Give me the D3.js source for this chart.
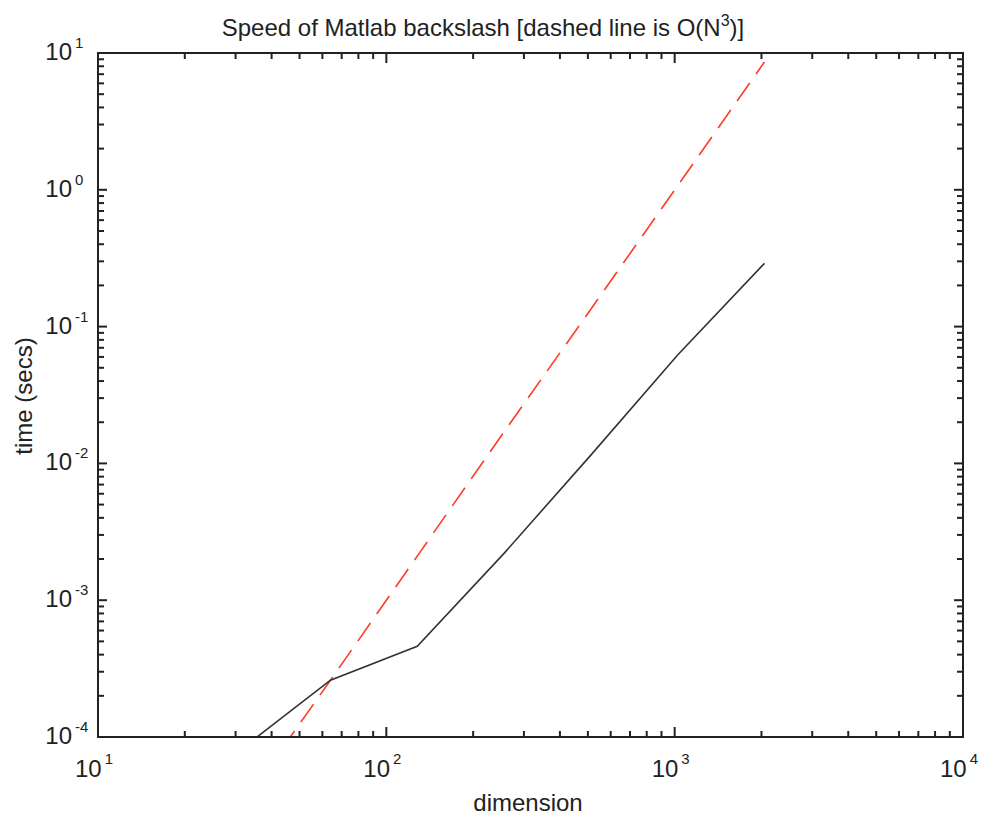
<!DOCTYPE html>
<html>
<head>
<meta charset="utf-8">
<script src="https://cdn.jsdelivr.net/npm/d3@7"></script>
<style>
  body { margin: 0; background: #fff; }
  text { font-family: Arial, "Liberation Sans", Helvetica, sans-serif; fill: #222; }
</style>
</head>
<body>
<svg id="chart" width="981" height="815"></svg>
<script>
// matrix dimension N and solve time (secs)
let dims = [32, 64, 128, 256, 512, 1024, 2048];
let timeSecs = [8.4e-5, 2.6e-4, 4.6e-4, 2.2e-3, 1.15e-2, 6.2e-2, 2.9e-1];
// reference O(N^3) curve
let cubicRef = [3.3e-5, 2.6e-4, 2.1e-3, 1.7e-2, 1.34e-1, 1.07, 8.6];

let xDecades = [1, 2, 3, 4];
let yDecades = [-4, -3, -2, -1, 0, 1];

let svg = d3.select('#chart');
let plotL = 98, plotR = 963, plotT = 53, plotB = 737;

let x = d3.scaleLog().domain([10, 1e4]).range([plotL, plotR]);
let y = d3.scaleLog().domain([1e-4, 10]).range([plotB, plotT]);

// minor + major ticks
let xTicks = [];
for (let e = 1; e < 4; e++) for (let m = 1; m < 10; m++) xTicks.push(m * Math.pow(10, e));
xTicks.push(1e4);
let yTicks = [];
for (let e = -4; e < 1; e++) for (let m = 1; m < 10; m++) yTicks.push(m * Math.pow(10, e));
yTicks.push(10);

function isMajor(v) {
  let l = Math.log10(v);
  return Math.abs(l - Math.round(l)) < 1e-9;
}

svg.append('clipPath').attr('id', 'clip')
  .append('rect').attr('x', plotL).attr('y', plotT).attr('width', plotR - plotL).attr('height', plotB - plotT);

let plot = svg.append('g').attr('clip-path', 'url(#clip)');

let line = d3.line().x((d, i) => x(dims[i])).y(d => y(d));

plot.append('path')
  .datum(cubicRef)
  .attr('d', line)
  .attr('fill', 'none')
  .attr('stroke', '#ff3b24')
  .attr('stroke-width', 1.6)
  .attr('stroke-dasharray', '22 11');

plot.append('path')
  .datum(timeSecs)
  .attr('d', line)
  .attr('fill', 'none')
  .attr('stroke', '#333')
  .attr('stroke-width', 1.6);

// ticks on all four sides, pointing inward
let tk = svg.append('g').attr('stroke', '#222').attr('stroke-width', 2);
xTicks.forEach(v => {
  let len = isMajor(v) ? 10 : 6;
  tk.append('line').attr('x1', x(v)).attr('x2', x(v)).attr('y1', plotB).attr('y2', plotB - len);
  tk.append('line').attr('x1', x(v)).attr('x2', x(v)).attr('y1', plotT).attr('y2', plotT + len);
});
yTicks.forEach(v => {
  let len = isMajor(v) ? 9 : 6;
  tk.append('line').attr('y1', y(v)).attr('y2', y(v)).attr('x1', plotL).attr('x2', plotL + len);
  tk.append('line').attr('y1', y(v)).attr('y2', y(v)).attr('x1', plotR).attr('x2', plotR - len);
});

svg.append('rect')
  .attr('x', plotL).attr('y', plotT).attr('width', plotR - plotL).attr('height', plotB - plotT)
  .attr('fill', 'none').attr('stroke', '#222').attr('stroke-width', 2);

// tick labels: 10 with superscript exponent
xDecades.forEach(e => {
  let t = svg.append('text').attr('x', x(Math.pow(10, e)) - 4).attr('y', 777)
    .attr('text-anchor', 'middle').style('font-size', '24px');
  t.append('tspan').text('10');
  t.append('tspan').attr('dx', 3).attr('dy', -13).style('font-size', '15px').text(e);
});
yDecades.forEach(e => {
  svg.append('text').attr('x', 72).attr('y', y(Math.pow(10, e)) + 7)
    .attr('text-anchor', 'end').style('font-size', '24px').text('10');
  svg.append('text').attr('x', 75).attr('y', y(Math.pow(10, e)) - 5)
    .style('font-size', '15px').text(e);
});

svg.append('text')
  .attr('x', 483).attr('y', 36)
  .attr('text-anchor', 'middle')
  .style('font-size', '24px')
  .call(t => {
    t.append('tspan').text('Speed of Matlab backslash [dashed line is O(N');
    t.append('tspan').attr('dy', -10).style('font-size', '16px').text('3');
    t.append('tspan').attr('dy', 10).text(')]');
  });

svg.append('text')
  .attr('x', 528).attr('y', 811)
  .attr('text-anchor', 'middle')
  .style('font-size', '24px')
  .text('dimension');

svg.append('text')
  .attr('transform', 'translate(32,396) rotate(-90)')
  .attr('text-anchor', 'middle')
  .style('font-size', '24px')
  .text('time (secs)');
</script>
</body>
</html>
